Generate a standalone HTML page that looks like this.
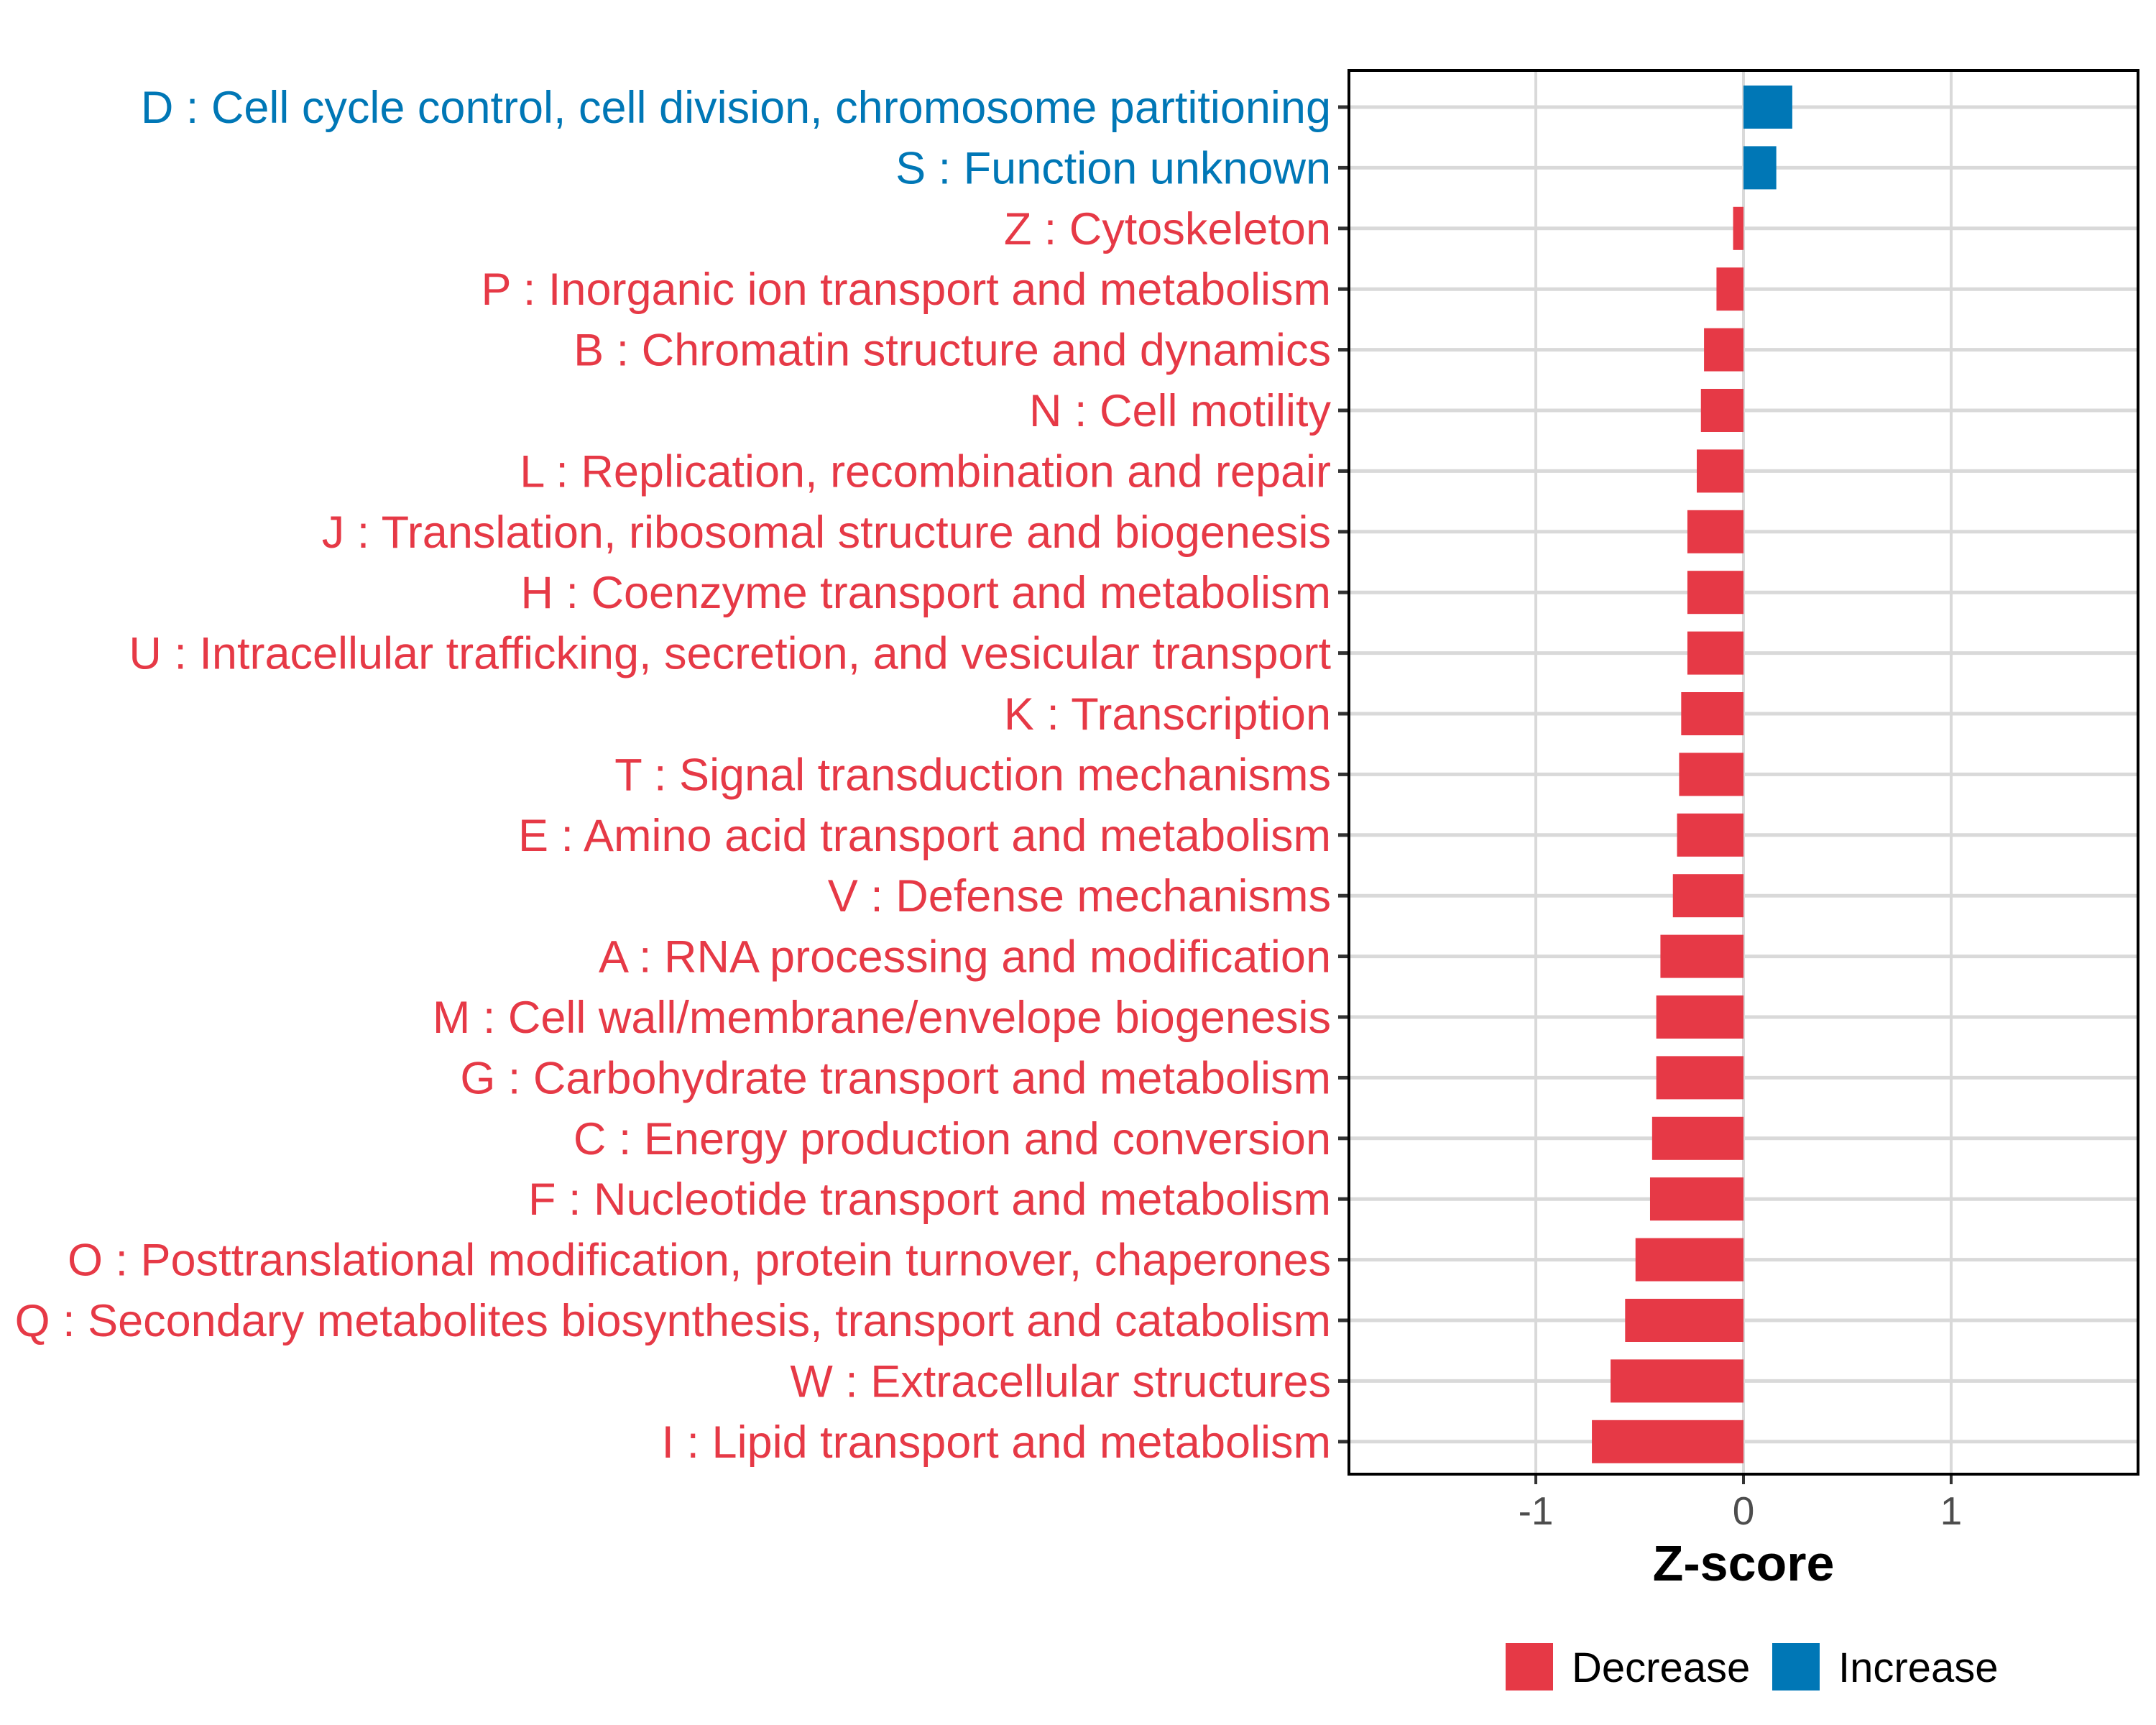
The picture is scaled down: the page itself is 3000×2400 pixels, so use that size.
<!DOCTYPE html>
<html><head><meta charset="utf-8"><style>
html,body{margin:0;padding:0;background:#fff}
svg{display:block}
text{font-family:"Liberation Sans",Arial,sans-serif}
</style></head><body>
<svg id="chart" width="3000" height="2400" viewBox="0 0 3000 2400" xmlns="http://www.w3.org/2000/svg">
<rect x="0" y="0" width="3000" height="2400" fill="#fff"/>
<g id="grid"></g>
<g id="bars"></g>
<g id="ylabels"></g>
<g id="xaxis"></g>
<rect x="1877" y="98" width="1098" height="1953" fill="none" stroke="#000" stroke-width="4"/>
<text x="2426" y="2199" text-anchor="middle" font-size="70" font-weight="bold" fill="#000">Z-score</text>
<g>
<rect x="2095" y="2286" width="66" height="66" fill="#E63946"/>
<text x="2187" y="2340" font-size="58" fill="#000">Decrease</text>
<rect x="2466" y="2286" width="66" height="66" fill="#0077B6"/>
<text x="2558" y="2340" font-size="58" fill="#000">Increase</text>
</g>
</svg>
<script>
const categories = [
"D : Cell cycle control, cell division, chromosome partitioning",
"S : Function unknown",
"Z : Cytoskeleton",
"P : Inorganic ion transport and metabolism",
"B : Chromatin structure and dynamics",
"N : Cell motility",
"L : Replication, recombination and repair",
"J : Translation, ribosomal structure and biogenesis",
"H : Coenzyme transport and metabolism",
"U : Intracellular trafficking, secretion, and vesicular transport",
"K : Transcription",
"T : Signal transduction mechanisms",
"E : Amino acid transport and metabolism",
"V : Defense mechanisms",
"A : RNA processing and modification",
"M : Cell wall/membrane/envelope biogenesis",
"G : Carbohydrate transport and metabolism",
"C : Energy production and conversion",
"F : Nucleotide transport and metabolism",
"O : Posttranslational modification, protein turnover, chaperones",
"Q : Secondary metabolites biosynthesis, transport and catabolism",
"W : Extracellular structures",
"I : Lipid transport and metabolism"
];
const zscores = [0.235,0.158,-0.05,-0.13,-0.19,-0.205,-0.225,-0.27,-0.27,-0.27,-0.30,-0.31,-0.32,-0.34,-0.40,-0.42,-0.42,-0.44,-0.45,-0.52,-0.57,-0.64,-0.73];
const xTicks = [-1,0,1];
const xTickLabels = ["-1","0","1"];
const xDomain = [-1.9,1.9];

const NS="http://www.w3.org/2000/svg";
const PL=1877, PR=2975, PT=98, PB=2051;
const ROW0=149, ROWSTEP=84.4, BARH=60;
const RED="#E63946", BLUE="#0077B6";
function xs(v){return PL+(v-xDomain[0])/(xDomain[1]-xDomain[0])*(PR-PL);}
function ys(i){return ROW0+i*ROWSTEP;}
function mk(tag,attrs,parent){const e=document.createElementNS(NS,tag);for(const k in attrs)e.setAttribute(k,attrs[k]);parent.appendChild(e);return e;}
const grid=document.getElementById('grid'),bars=document.getElementById('bars'),yl=document.getElementById('ylabels'),xa=document.getElementById('xaxis');
xTicks.forEach((t,i)=>{
  const g=mk('line',{x1:xs(t),x2:xs(t),y1:PT,y2:PB,stroke:'#d9d9d9','stroke-width':4},grid);
  
  
  const tk=mk('line',{x1:xs(t),x2:xs(t),y1:PB,y2:PB+14,stroke:'#333','stroke-width':4},xa);
  
  
  const tl=mk('text',{x:xs(t),y:PB+70,'text-anchor':'middle','font-size':55,fill:'#4d4d4d'},xa);
  tl.textContent=xTickLabels[i];
  
  
});
categories.forEach((c,i)=>{
  const y=ys(i);
  const g=mk('line',{x1:PL,x2:PR,y1:y,y2:y,stroke:'#d9d9d9','stroke-width':5},grid);
  
  
  const v=zscores[i];
  const col=v>=0?BLUE:RED;
  const x0=xs(Math.min(0,v)), x1=xs(Math.max(0,v));
  const b=mk('rect',{x:x0,y:y-BARH/2,width:x1-x0,height:BARH,fill:col},bars);
  
  
  const tk=mk('line',{x1:PL-15,x2:PL,y1:y,y2:y,stroke:'#333','stroke-width':5},yl);
  
  
  const t=mk('text',{x:1852,y:y+22,'text-anchor':'end','font-size':63,fill:col},yl);
  t.textContent=c;
  
  
});
</script>
</body></html>
